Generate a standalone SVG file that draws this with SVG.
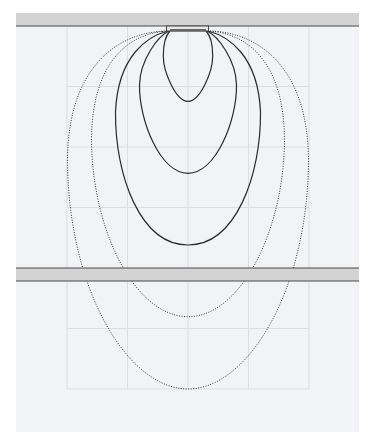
<svg xmlns="http://www.w3.org/2000/svg" width="366" height="432" viewBox="0 0 366 432">
<style>
.grid{stroke:#dcdde0;stroke-width:1;fill:none}
.plate{fill:#d3d3d3}
.edge{stroke:#4a4a4a;stroke-width:1.2}
.solid{fill:none;stroke:#2a2a2a;stroke-width:1.2}
.dot{fill:none;stroke:#333;stroke-width:1;stroke-dasharray:1 1.5}
</style>
<rect x="0" y="0" width="366" height="432" fill="#ffffff"/>
<rect x="16" y="13" width="343" height="419" fill="#f2f3f5"/>
<g id="grid" class="grid">
<path d="M67 26V389M127.5 26V389M188 26V389M248.5 26V389M309 26V389"/>
<path d="M67 86.5H309M67 147H309M67 207.5H309M67 328.5H309M67 389H309"/>
</g>
<g id="connectors">
<path class="solid" d="M170 31C165 36 163.3 44 163.3 56C163.3 72 176 101.3 188 101.3C200 101.3 212.7 72 212.7 56C212.7 44 211 36 206 31"/>
<path class="solid" d="M169 31C158 36 140 60 139.5 85C139 120 160 173.3 188 173.3C216 173.3 237 120 236.5 85C236 60 218 36 207 31"/>
<path class="solid" d="M168 31C148 36 118 55 115.5 112C115 175 140 245 188 245C236 245 261 175 260.5 112C258 55 228 36 208 31"/>
<path class="dot" d="M168 31C130 33 92 60 91.5 140C92 230 135 316.7 188 316.7C241 316.7 284 230 284.5 140C284 60 246 33 208 31"/>
<path class="dot" d="M167 31C115 32 68 70 67.5 160C68 290 128 389 188 389C248 389 308 290 308.5 160C308 70 261 32 209 31"/>
</g>
<g id="top-plate">
<rect class="plate" x="16" y="13" width="343" height="13"/>
<line class="edge" x1="16" y1="26" x2="359" y2="26"/>
</g>
<g id="middle-plate">
<rect class="plate" x="16" y="268" width="343" height="13"/>
<line class="edge" x1="16" y1="268" x2="359" y2="268"/>
<line class="edge" x1="16" y1="281" x2="359" y2="281"/>
</g>
<g id="electrode">
<rect x="166.5" y="26" width="42" height="5" fill="#e6e6e6" stroke="#444" stroke-width="1"/>
<rect x="170" y="29" width="36" height="2.5" fill="#666"/>
</g>
</svg>
